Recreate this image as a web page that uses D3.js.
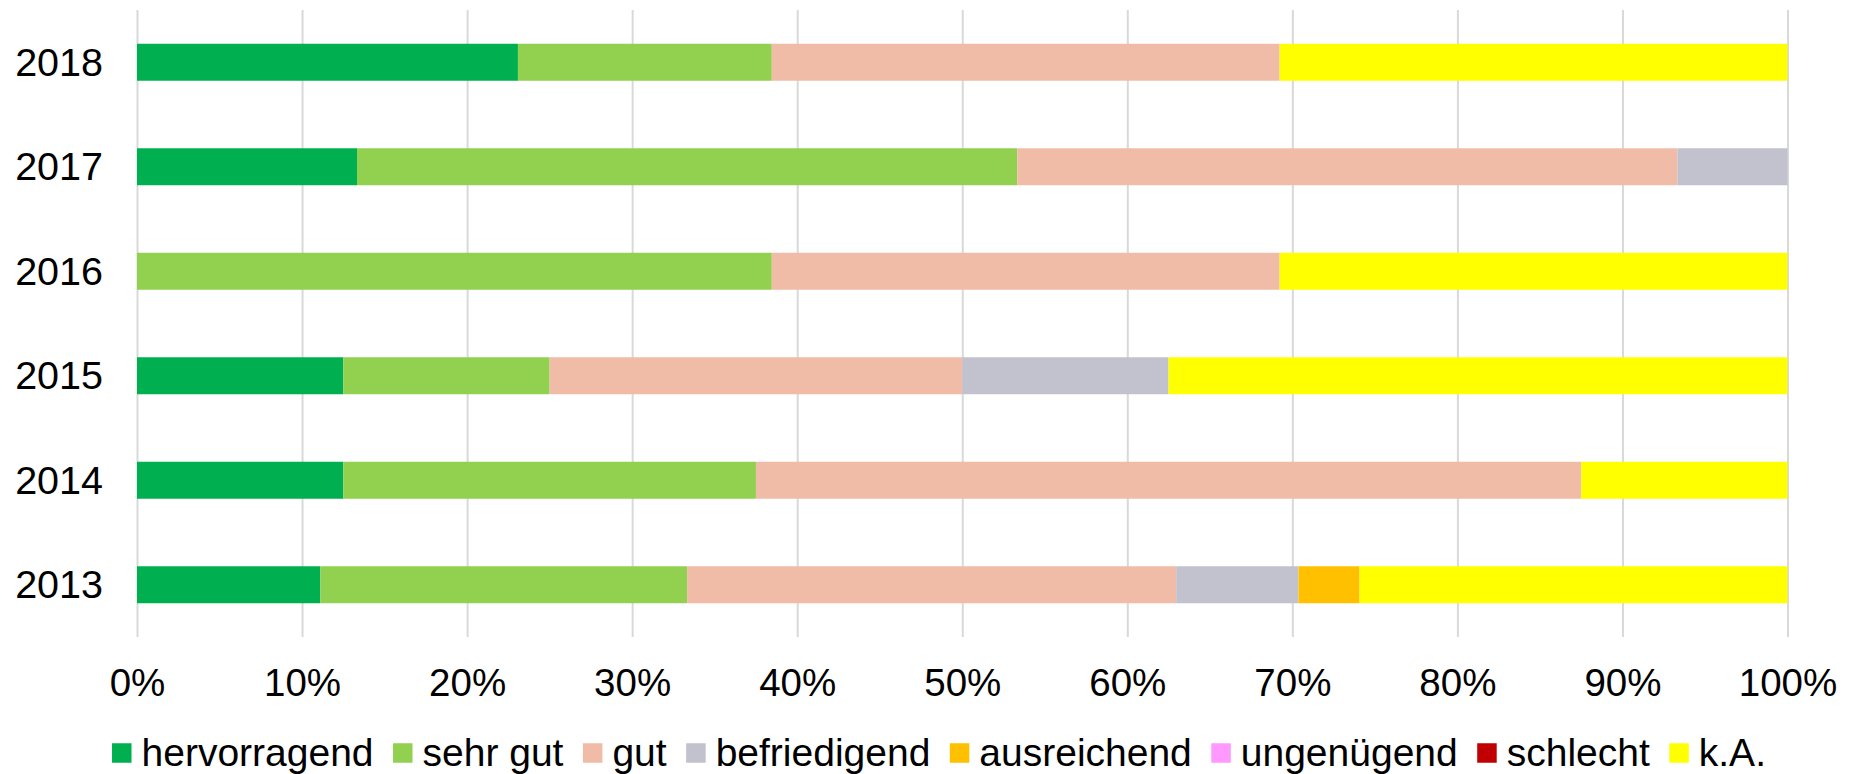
<!DOCTYPE html>
<html>
<head>
<meta charset="utf-8">
<script src="https://cdn.jsdelivr.net/npm/d3@7"></script>
<style>
  body { margin: 0; background: #fff; }
  text { font-family: "Liberation Sans", Arial, sans-serif; fill: #000; }
</style>
</head>
<body>
<svg id="chart"></svg>
<script>
// years from top to bottom
var years = ["2018", "2017", "2016", "2015", "2014", "2013"];
var seriesNames = ["hervorragend", "sehr gut", "gut", "befriedigend", "ausreichend", "ungenügend", "schlecht", "k.A."];
var seriesColors = ["#00B050", "#92D050", "#F0BCA7", "#C2C2CE", "#FFC000", "#FF99FF", "#C00000", "#FFFF00"];

// shares in percent, one value per year (same order as years)
var hervorragend = [23.08, 13.33, 0, 12.5, 12.5, 11.11];
var sehrGut      = [15.38, 40.0, 38.46, 12.5, 25.0, 22.22];
var gut          = [30.77, 40.0, 30.77, 25.0, 50.0, 29.63];
var befriedigend = [0, 6.67, 0, 12.5, 0, 7.41];
var ausreichend  = [0, 0, 0, 0, 0, 3.70];
var ungenuegend  = [0, 0, 0, 0, 0, 0];
var schlecht     = [0, 0, 0, 0, 0, 0];
var kA           = [30.77, 0, 30.77, 37.5, 12.5, 25.93];

var xTicks = [0, 10, 20, 30, 40, 50, 60, 70, 80, 90, 100];

var allSeries = [hervorragend, sehrGut, gut, befriedigend, ausreichend, ungenuegend, schlecht, kA];

var W = 1857, H = 774;
var margin = {top: 10, left: 137, right: 70, bottom: 137};
var width = 1787.5 - margin.left,
    height = 637 - margin.top;

var svg = d3.select("#chart")
    .attr("width", W)
    .attr("height", H);

var g = svg.append("g")
    .attr("transform", "translate(" + margin.left + "," + margin.top + ")");

var x = d3.scaleLinear().domain([0, 100]).range([0, width]);
var y = d3.scaleBand()
    .domain(years)
    .range([0, height])
    .paddingInner(0.646)
    .paddingOuter(0.323);

// table for the stack
var table = years.map(function(yr, i) {
  var row = {year: yr};
  seriesNames.forEach(function(s, j) { row[s] = allSeries[j][i]; });
  return row;
});
var stacked = d3.stack().keys(seriesNames)(table);

// vertical gridlines
g.append("g")
    .attr("class", "grid")
    .call(d3.axisBottom(x).tickValues(xTicks).tickSize(height).tickFormat(""))
    .call(function(sel) {
      sel.select(".domain").remove();
      sel.selectAll("line").attr("stroke", "#D9D9D9").attr("stroke-width", 2);
    });

// bars
g.selectAll(".series")
    .data(stacked)
    .enter().append("g")
    .attr("class", "series")
    .attr("fill", function(d, i) { return seriesColors[i]; })
  .selectAll("rect")
    .data(function(d) { return d; })
    .enter().append("rect")
    .attr("x", function(d) { return x(d[0]); })
    .attr("y", function(d) { return y(d.data.year); })
    .attr("width", function(d) { return x(d[1]) - x(d[0]); })
    .attr("height", y.bandwidth());

// x axis labels
g.append("g")
    .attr("transform", "translate(0," + height + ")")
    .call(d3.axisBottom(x).tickValues(xTicks).tickSize(0).tickPadding(0)
      .tickFormat(function(d) { return d + "%"; }))
    .call(function(sel) {
      sel.select(".domain").remove();
      sel.selectAll("text")
        .attr("dy", null)
        .attr("y", 59)
        .style("font-size", "38.5px")
        .style("font-family", "'Liberation Sans', Arial, sans-serif")
        .attr("fill", "#000");
    });

// y axis labels
g.append("g")
    .call(d3.axisLeft(y).tickSize(0).tickPadding(34))
    .call(function(sel) {
      sel.select(".domain").remove();
      sel.selectAll("text")
        .attr("dy", "0.34em")
        .style("font-size", "39.5px")
        .style("font-family", "'Liberation Sans', Arial, sans-serif")
        .attr("fill", "#000");
    });

// legend
var legend = svg.append("g").attr("class", "legend");
var sq = 19.5, gapText = 10, gapItem = 19.5;
var items = legend.selectAll(".item")
    .data(seriesNames)
    .enter().append("g")
    .attr("class", "item");
items.append("rect")
    .attr("width", sq).attr("height", sq)
    .attr("y", -sq / 2)
    .attr("fill", function(d, i) { return seriesColors[i]; });
items.append("text")
    .attr("x", sq + gapText)
    .attr("y", 12.5)
    .style("font-size", "39px")
    .text(function(d) { return d; });

var pos = 0, offsets = [];
items.each(function() {
  offsets.push(pos);
  var tw = d3.select(this).select("text").node().getComputedTextLength();
  pos += sq + gapText + tw + gapItem;
});
var total = pos - gapItem;
var startX = 939 - total / 2;
items.attr("transform", function(d, i) {
  return "translate(" + (startX + offsets[i]) + ",753)";
});
</script>
</body>
</html>
